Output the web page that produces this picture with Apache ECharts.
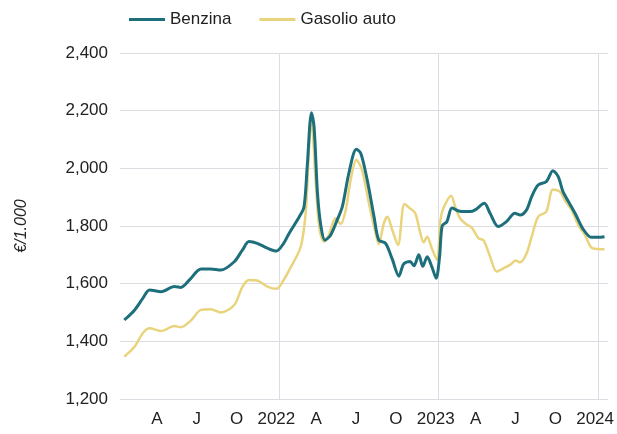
<!DOCTYPE html>
<html>
<head>
<meta charset="utf-8">
<script src="https://cdn.jsdelivr.net/npm/echarts@6/dist/echarts.min.js"></script>
<style>
  html, body { margin: 0; padding: 0; background: #fff; }
  #chart { width: 617px; height: 434px; }
</style>
</head>
<body>
<div id="chart"></div>
<script>
// weekly fuel prices, €/1.000 litres
var benzinaDates = [
  '2021-01-11', '2021-02-04', '2021-02-21', '2021-03-08', '2021-04-04', '2021-05-04', '2021-05-19',
  '2021-06-08', '2021-07-04', '2021-07-27', '2021-08-19', '2021-09-19', '2021-10-08', '2021-10-23',
  '2021-11-11', '2021-12-04', '2021-12-25', '2022-01-11', '2022-01-24', '2022-02-15', '2022-02-25',
  '2022-03-04', '2022-03-14', '2022-03-20', '2022-03-28', '2022-04-05', '2022-04-14', '2022-04-27',
  '2022-05-12', '2022-05-24', '2022-06-08', '2022-06-25', '2022-07-05', '2022-07-20', '2022-08-05',
  '2022-08-16', '2022-09-01', '2022-09-16', '2022-10-01', '2022-10-12', '2022-10-27', '2022-11-05',
  '2022-11-16', '2022-11-25', '2022-12-05', '2022-12-16', '2022-12-26', '2023-01-03', '2023-01-09',
  '2023-01-20', '2023-02-01', '2023-02-15', '2023-03-01', '2023-03-12', '2023-03-24', '2023-04-14',
  '2023-04-27', '2023-05-16', '2023-06-04', '2023-06-23', '2023-07-05', '2023-07-20', '2023-08-01',
  '2023-08-16', '2023-09-04', '2023-09-19', '2023-10-01', '2023-10-12', '2023-10-27', '2023-11-11',
  '2023-11-26', '2023-12-16', '2024-01-01', '2024-01-16'
];
var benzinaValues = [
  1474, 1509, 1549, 1578, 1572, 1590, 1587,
  1613, 1651, 1651, 1647, 1676, 1717, 1746,
  1740, 1723, 1713, 1740, 1775, 1832, 1867,
  2006, 2193, 2144, 1913, 1798, 1751, 1769,
  1821, 1867, 1983, 2066, 2052, 1960, 1832,
  1751, 1740, 1685, 1626, 1668, 1677, 1662,
  1700, 1660, 1693, 1658, 1619, 1694, 1800,
  1815, 1862, 1852, 1850, 1850, 1856, 1879,
  1844, 1798, 1815, 1844, 1838, 1856, 1902,
  1942, 1954, 1992, 1971, 1919, 1879, 1838,
  1792, 1761, 1761, 1763
];

var gasolioDates = [
  '2021-01-11', '2021-02-04', '2021-02-21', '2021-03-08', '2021-04-04', '2021-05-04', '2021-05-19',
  '2021-06-11', '2021-07-04', '2021-07-27', '2021-08-19', '2021-09-19', '2021-10-08', '2021-10-23',
  '2021-11-11', '2021-12-04', '2021-12-25', '2022-01-11', '2022-01-24', '2022-02-18', '2022-03-01',
  '2022-03-08', '2022-03-14', '2022-03-24', '2022-04-01', '2022-04-12', '2022-04-23', '2022-05-08',
  '2022-05-20', '2022-06-01', '2022-06-12', '2022-06-25', '2022-07-08', '2022-07-24', '2022-08-07',
  '2022-08-16', '2022-08-28', '2022-09-05', '2022-09-16', '2022-09-29', '2022-10-14', '2022-10-27',
  '2022-11-08', '2022-11-19', '2022-11-27', '2022-12-05', '2022-12-16', '2022-12-28', '2023-01-05',
  '2023-01-12', '2023-01-30', '2023-02-08', '2023-02-18', '2023-03-05', '2023-03-16', '2023-04-01',
  '2023-04-12', '2023-04-27', '2023-05-12', '2023-05-28', '2023-06-12', '2023-06-25', '2023-07-05',
  '2023-07-20', '2023-08-01', '2023-08-16', '2023-09-04', '2023-09-19', '2023-10-05', '2023-10-16',
  '2023-11-01', '2023-11-16', '2023-12-01', '2023-12-16', '2024-01-01', '2024-01-16'
];
var gasolioValues = [
  1347, 1382, 1428, 1445, 1436, 1453, 1449,
  1472, 1509, 1511, 1500, 1526, 1590, 1613,
  1611, 1590, 1582, 1613, 1647, 1728, 1856,
  2064, 2168, 1948, 1798, 1746, 1769, 1827,
  1807, 1856, 1960, 2029, 1994, 1879, 1786,
  1737, 1810, 1832, 1786, 1734, 1876, 1861,
  1844, 1778, 1743, 1763, 1722, 1682, 1820,
  1862, 1905, 1865, 1827, 1804, 1795, 1757,
  1751, 1694, 1642, 1653, 1665, 1680, 1674,
  1705, 1763, 1832, 1850, 1927, 1919, 1890,
  1856, 1804, 1769, 1726, 1720, 1719
];

var quarterLabels = ['', 'A', 'J', 'O'];
var firstYear = 2021;

// date -> months since Jan 2021
function toMonths (s) {
  var p = s.split('-').map(Number)
  var days = new Date(p[0], p[1], 0).getDate()
  return (p[0] - firstYear) * 12 + (p[1] - 1) + (p[2] - 1) / days
}

function pairs (dates, values) {
  return dates.map(function (d, i) { return [toMonths(d), values[i]] })
}

var chart = echarts.init(document.getElementById('chart'), null, { renderer: 'canvas' })

var font = 'Liberation Sans, Arial, sans-serif'

var option = {
  animation: false,
  backgroundColor: '#ffffff',
  textStyle: { fontFamily: font },
  legend: {
    left: 124,
    top: 6,
    icon: 'rect',
    itemWidth: 36,
    itemHeight: 3,
    itemGap: 28,
    textStyle: { fontSize: 17, color: '#222', fontFamily: font },
    data: ['Benzina', 'Gasolio auto']
  },
  grid: {
    left: 120,
    right: 7,
    top: 53,
    bottom: 35
  },
  xAxis: [
    {
      type: 'value',
      min: 0,
      max: 36.75,
      interval: 3,
      axisLine: { show: false },
      axisTick: { show: false },
      splitLine: { show: false },
      axisLabel: {
        fontSize: 17,
        color: '#222',
        margin: 12,
        padding: [0, 6, 0, 0],
        formatter: function (v) {
          if (Math.abs(v - Math.round(v)) > 1e-6) return ''
          if (v === 0) return ''
          if (v % 12 === 0) return String(firstYear + v / 12)
          return quarterLabels[(v % 12) / 3] || ''
        }
      }
    },
    {
      type: 'value',
      min: 0,
      max: 36.75,
      interval: 12,
      position: 'bottom',
      axisLine: { show: false },
      axisTick: { show: false },
      axisLabel: { show: false },
      splitLine: {
        show: true,
        showMinLine: false,
        showMaxLine: false,
        lineStyle: { color: '#dcdde3', width: 1 }
      }
    }
  ],
  yAxis: {
    type: 'value',
    min: 1200,
    max: 2400,
    interval: 200,
    name: '€/1.000',
    nameLocation: 'middle',
    nameGap: 90,
    nameTextStyle: { fontSize: 16, color: '#222', fontStyle: 'italic', fontFamily: font },
    axisLine: { show: false },
    axisTick: { show: false },
    axisLabel: { fontSize: 17, color: '#222', margin: 12 },
    splitLine: { lineStyle: { color: '#dcdde3', width: 1 } }
  },
  series: [
    {
      name: 'Gasolio auto',
      type: 'line',
      xAxisIndex: 0,
      symbol: 'none',
      smooth: 0.3,
      lineStyle: { color: '#e9d37c', width: 2.5 },
      itemStyle: { color: '#e9d37c' },
      data: pairs(gasolioDates, gasolioValues),
      z: 2
    },
    {
      name: 'Benzina',
      type: 'line',
      xAxisIndex: 0,
      symbol: 'none',
      smooth: 0.3,
      lineStyle: { color: '#1d6f7c', width: 3 },
      itemStyle: { color: '#1d6f7c' },
      data: pairs(benzinaDates, benzinaValues),
      z: 3
    }
  ]
}

chart.setOption(option)
</script>
</body>
</html>
